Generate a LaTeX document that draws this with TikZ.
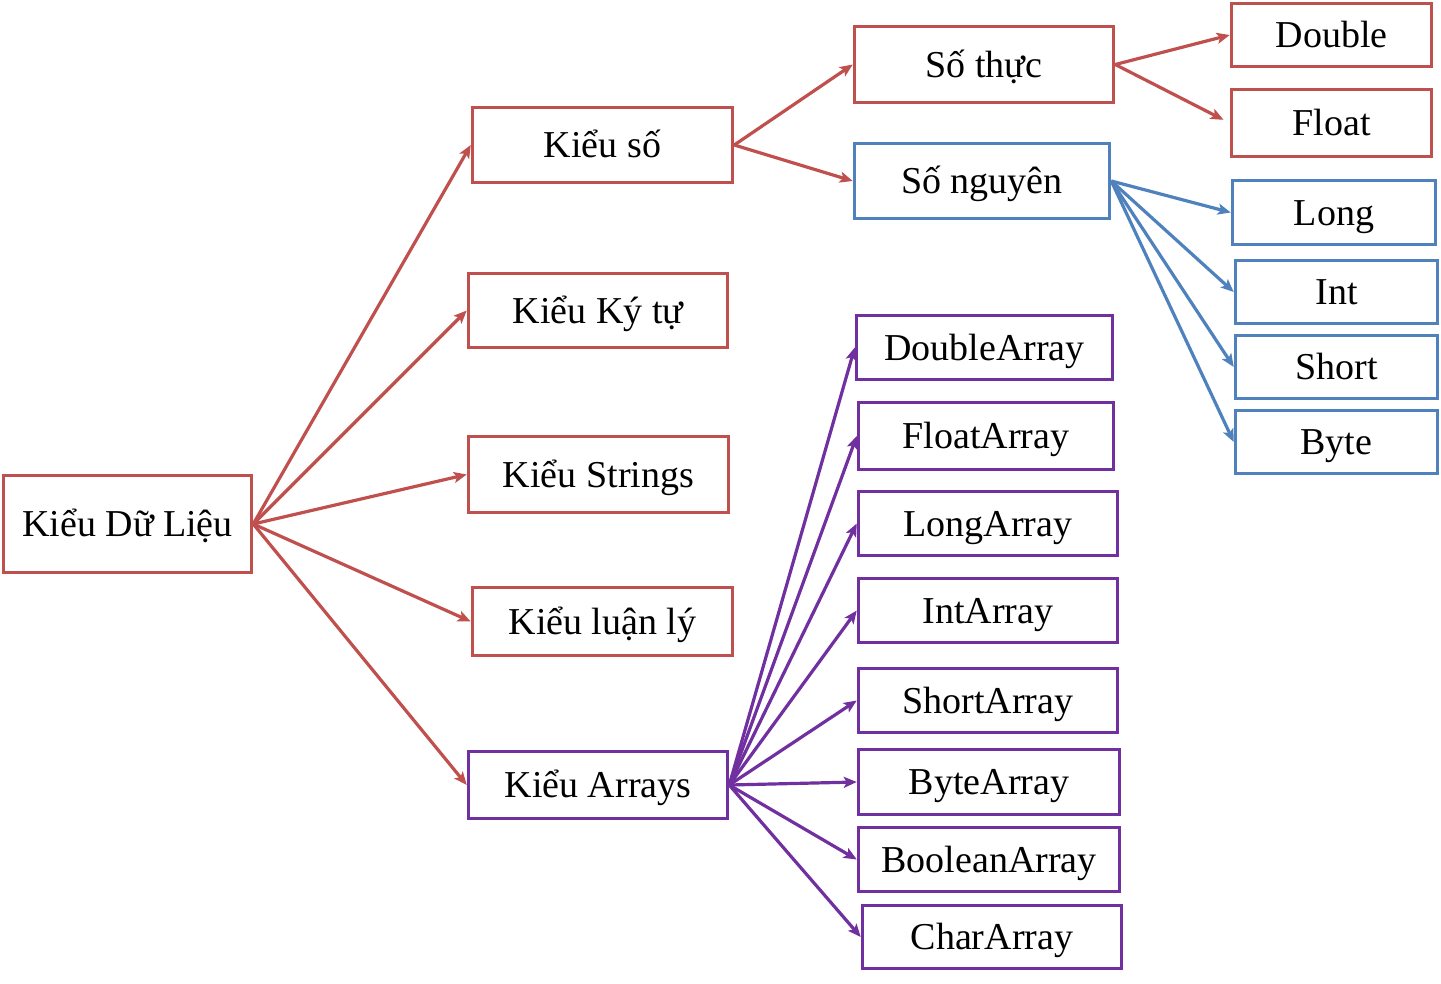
\documentclass[tikz,border=0pt]{standalone}
\usepackage{fontspec}
\setmainfont{Liberation Serif}
\usetikzlibrary{arrows.meta}
\definecolor{cred}{HTML}{C0504D}
\definecolor{cblue}{HTML}{4F81BD}
\definecolor{cpurp}{HTML}{7030A0}
\tikzset{
  bx/.style n args={2}{draw=#1, line width=3.5pt, minimum width=#2, inner sep=0pt,
     font=\fontsize{38}{42}\selectfont, text=black, text height=25pt, text depth=0pt},
  ar/.style={draw=#1, line width=3.2pt, -{Stealth[length=13pt,width=11pt,inset=3pt]}}
}
\begin{document}
\begin{tikzpicture}[x=1pt,y=-1pt]
\useasboundingbox (0,0) rectangle (1441,983);
\node[bx={cred}{248pt}, minimum height=97pt] (kdl) at (127.5,524) {Kiểu Dữ Liệu};
\node[bx={cred}{260pt}, minimum height=75pt] (ks) at (602.5,145) {Kiểu số};
\node[bx={cred}{259pt}, minimum height=74pt] (kkt) at (598,310.5) {Kiểu Ký tự};
\node[bx={cred}{260pt}, minimum height=76pt] (kstr) at (598.5,474.5) {Kiểu Strings};
\node[bx={cred}{260pt}, minimum height=68pt] (kll) at (602.5,621.5) {Kiểu luận lý};
\node[bx={cpurp}{259pt}, minimum height=67pt] (karr) at (598,785) {Kiểu Arrays};
\node[bx={cred}{259pt}, minimum height=76pt] (st) at (984,64.5) {Số thực};
\node[bx={cblue}{255pt}, minimum height=75pt] (sn) at (982,181) {Số nguyên};
\node[bx={cred}{200pt}, minimum height=63pt] (dbl) at (1331.5,35) {Double};
\node[bx={cred}{200pt}, minimum height=67pt] (flt) at (1331.5,123) {Float};
\node[bx={cblue}{203pt}, minimum height=64pt] (lng) at (1334,212.5) {Long};
\node[bx={cblue}{202pt}, minimum height=63pt] (int) at (1336.5,292) {Int};
\node[bx={cblue}{202pt}, minimum height=63pt] (sht) at (1336.5,367) {Short};
\node[bx={cblue}{202pt}, minimum height=63pt] (byt) at (1336.5,442) {Byte};
\node[bx={cpurp}{256pt}, minimum height=64pt] (da) at (984.5,347.5) {DoubleArray};
\node[bx={cpurp}{255pt}, minimum height=67pt] (fa) at (986,436) {FloatArray};
\node[bx={cpurp}{259pt}, minimum height=64pt] (la) at (988,523.5) {LongArray};
\node[bx={cpurp}{259pt}, minimum height=64pt] (ia) at (988,610.5) {IntArray};
\node[bx={cpurp}{259pt}, minimum height=64pt] (sa) at (988,700.5) {ShortArray};
\node[bx={cpurp}{261pt}, minimum height=65pt] (ba) at (989,782) {ByteArray};
\node[bx={cpurp}{261pt}, minimum height=64pt] (boa) at (989,859.5) {BooleanArray};
\node[bx={cpurp}{259pt}, minimum height=63pt] (ca) at (992,937) {CharArray};
\foreach \t in {ks,kkt,kstr,kll,karr} \draw[ar=cred] (kdl.east) -- (\t.west);
\draw[ar=cred] (ks.east) -- (st.west);
\draw[ar=cred] (ks.east) -- (sn.west);
\draw[ar=cred] (st.east) -- (dbl.west);
\draw[ar=cred, shorten >=7pt] (st.east) -- (flt.west);
\foreach \t in {lng,int,sht,byt} \draw[ar=cblue] (sn.east) -- (\t.west);
\foreach \t in {da,fa,la,ia,sa,ba,boa,ca} \draw[ar=cpurp] (karr.east) -- (\t.west);
\end{tikzpicture}
\end{document}
